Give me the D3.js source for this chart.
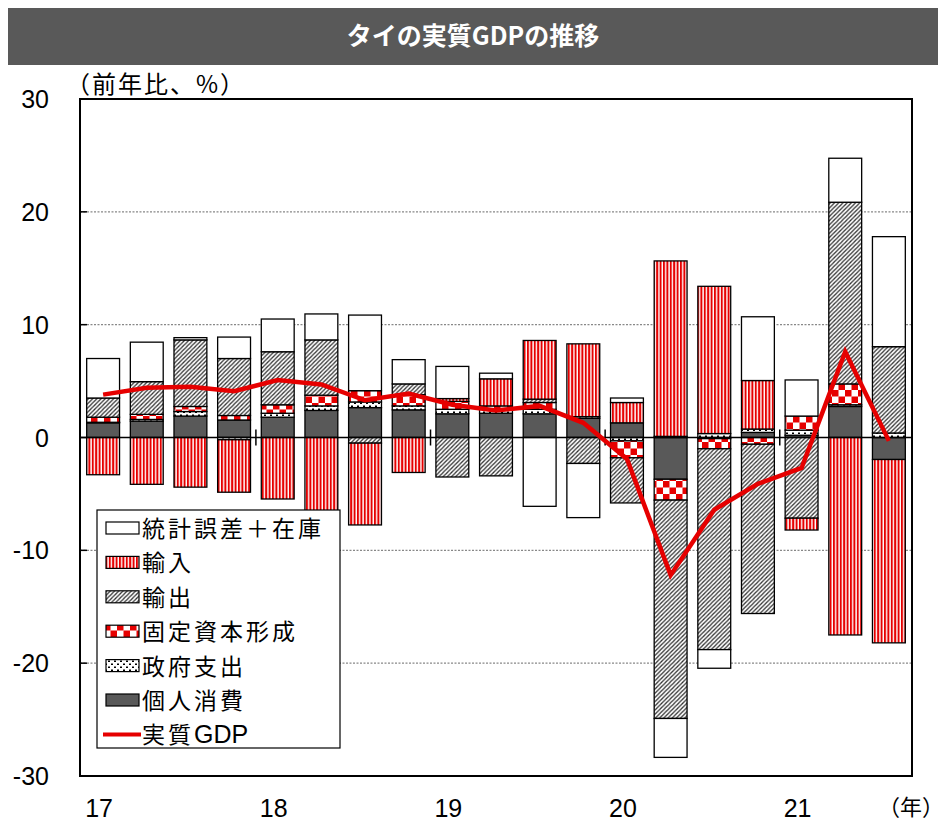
<!DOCTYPE html>
<html>
<head>
<meta charset="utf-8">
<script src="https://cdn.jsdelivr.net/npm/d3@7"></script>
<style>
  body { margin: 0; background: #fff; }
  svg { display: block; }
  text { font-family: "Liberation Sans", Arial, "Noto Sans CJK JP", sans-serif; }
  .jp { font-family: "Noto Sans CJK JP", sans-serif; }
</style>
</head>
<body>
<svg id="chart" width="945" height="822"></svg>
<script>
// quarters 2017Q1 .. 2021Q3
const quarters = ["17Q1","17Q2","17Q3","17Q4","18Q1","18Q2","18Q3","18Q4",
  "19Q1","19Q2","19Q3","19Q4","20Q1","20Q2","20Q3","20Q4","21Q1","21Q2","21Q3"];
const yearLabels = ["17","18","19","20","21"];

// contributions (pt)
const consumption = [1.3,1.45,1.9,1.55,1.8,2.4,2.65,2.45,2.1,2.15,2.1,1.7,1.3,-3.7,-0.1,0.45,0.2,2.75,-1.95];
const government  = [0.05,0.15,0.4,-0.2,0.35,0.4,0.5,0.35,0.4,0.35,0.4,0.15,-0.3,0.1,0.35,0.3,0.45,0.15,0.4];
const investment  = [0.45,0.45,0.45,0.4,0.75,0.95,1.0,1.0,0.7,0.3,0.6,0,-1.5,-1.85,-0.9,-0.6,1.25,1.85,0];
const exports_    = [1.7,2.9,5.9,5.05,4.7,4.9,-0.5,0.95,-3.5,-3.4,0.3,-2.3,-4.0,-19.35,-17.8,-15.0,-7.15,16.1,7.65];
const imports_    = [-3.3,-4.15,-4.4,-4.65,-5.45,-6.8,-7.25,-3.1,0.25,2.4,5.2,6.45,1.8,15.55,13.05,4.3,-1.05,-17.5,-16.25];
const residual    = [3.5,3.5,0.2,1.9,2.9,2.3,6.7,2.15,2.85,0.5,-6.1,-4.8,0.4,-3.45,-1.65,5.65,3.2,3.9,9.75];
const realGDP     = [3.8,4.4,4.5,4.1,5.1,4.7,3.3,3.9,2.9,2.4,2.8,1.3,-1.9,-12.2,-6.4,-4.1,-2.7,7.6,-0.3];

const keys = ["個人消費","政府支出","固定資本形成","輸出","輸入","統計誤差＋在庫"];
const seriesData = [consumption, government, investment, exports_, imports_, residual];
const legendOrder = ["統計誤差＋在庫","輸入","輸出","固定資本形成","政府支出","個人消費"];
const yTicks = [30,20,10,0,-10,-20,-30];

const rows = quarters.map((q, i) => {
  const r = { q: q };
  keys.forEach((k, j) => r[k] = seriesData[j][i]);
  return r;
});

const svg = d3.select("#chart");
const plotLeft = 80, plotRight = 912, plotTop = 99, plotBottom = 776;

const x = d3.scaleBand().domain(quarters).range([plotLeft, plotRight])
  .paddingInner(0.247).paddingOuter(0.153);
const y = d3.scaleLinear().domain([-30, 30]).range([plotBottom, plotTop]);

// patterns
const defs = svg.append("defs");
const red = "#e60000";

let p = defs.append("pattern").attr("id", "pat-imp").attr("patternUnits", "userSpaceOnUse")
  .attr("width", 3.4).attr("height", 10);
p.append("rect").attr("width", 3.4).attr("height", 10).attr("fill", "#fff");
p.append("rect").attr("width", 2).attr("height", 10).attr("fill", red);

p = defs.append("pattern").attr("id", "pat-exp").attr("patternUnits", "userSpaceOnUse")
  .attr("width", 4.2).attr("height", 4.2);
p.append("rect").attr("width", 4.2).attr("height", 4.2).attr("fill", "#fff");
p.append("path").attr("d", "M-1,1 L1,-1 M0,4.2 L4.2,0 M3.2,5.2 L5.2,3.2")
  .attr("stroke", "#333").attr("stroke-width", 1.3);

p = defs.append("pattern").attr("id", "pat-inv").attr("patternUnits", "userSpaceOnUse")
  .attr("width", 13).attr("height", 13);
p.append("rect").attr("width", 13).attr("height", 13).attr("fill", "#fff");
p.append("rect").attr("width", 6.5).attr("height", 6.5).attr("fill", red);
p.append("rect").attr("x", 6.5).attr("y", 6.5).attr("width", 6.5).attr("height", 6.5).attr("fill", red);

p = defs.append("pattern").attr("id", "pat-gov").attr("patternUnits", "userSpaceOnUse")
  .attr("width", 6).attr("height", 6);
p.append("rect").attr("width", 6).attr("height", 6).attr("fill", "#fff");
p.append("rect").attr("x", 0).attr("y", 0.5).attr("width", 2).attr("height", 1.5).attr("fill", "#000");
p.append("rect").attr("x", 3).attr("y", 3.5).attr("width", 2).attr("height", 1.5).attr("fill", "#000");

const fills = {
  "個人消費": "#595959",
  "政府支出": "url(#pat-gov)",
  "固定資本形成": "url(#pat-inv)",
  "輸出": "url(#pat-exp)",
  "輸入": "url(#pat-imp)",
  "統計誤差＋在庫": "#fff"
};

// title band
svg.append("rect").attr("x", 8).attr("y", 8).attr("width", 930).attr("height", 57).attr("fill", "#595959");
svg.append("text").attr("class", "jp").attr("x", 473).attr("y", 45).attr("text-anchor", "middle")
  .attr("fill", "#fff").attr("font-size", 25).attr("font-weight", "bold").text("タイの実質GDPの推移");

svg.append("text").attr("class", "jp").attr("x", 66).attr("y", 93)
  .attr("font-size", 24).attr("letter-spacing", 2).text("（前年比、%）");

// gridlines
svg.append("g").selectAll("line").data(yTicks.filter(t => t !== 0 && Math.abs(t) !== 30)).enter()
  .append("line")
  .attr("x1", plotLeft).attr("x2", plotRight)
  .attr("y1", d => y(d)).attr("y2", d => y(d))
  .attr("stroke", "#888").attr("stroke-width", 1.2).attr("stroke-dasharray", "2,1.5");

// y tick labels and inward ticks
svg.append("g").selectAll("text").data(yTicks).enter().append("text")
  .attr("x", 49).attr("y", d => y(d) + 9).attr("text-anchor", "end")
  .attr("font-size", 25).text(d => d);
svg.append("g").selectAll("line").data(yTicks).enter().append("line")
  .attr("x1", plotLeft).attr("x2", plotLeft + 7).attr("y1", d => y(d)).attr("y2", d => y(d))
  .attr("stroke", "#000").attr("stroke-width", 1.5);

// stacked bars
const stack = d3.stack().keys(keys).offset(d3.stackOffsetDiverging);
const layers = stack(rows);

svg.append("g").selectAll("g").data(layers).enter().append("g")
  .attr("fill", d => fills[d.key])
  .selectAll("rect").data(d => d).enter().append("rect")
  .attr("x", d => x(d.data.q))
  .attr("width", x.bandwidth())
  .attr("y", d => y(Math.max(d[0], d[1])))
  .attr("height", d => Math.abs(y(d[0]) - y(d[1])))
  .attr("stroke", "#000").attr("stroke-width", 1.3);

// zero line
svg.append("line").attr("x1", plotLeft).attr("x2", plotRight).attr("y1", y(0)).attr("y2", y(0))
  .attr("stroke", "#000").attr("stroke-width", 1.6);

// year separators on zero line
const step = x.step();
const sepQs = quarters.filter((q, i) => i > 0 && i % 4 === 0);
svg.append("g").selectAll("line").data(sepQs).enter().append("line")
  .attr("x1", d => x(d) - step * x.paddingInner() / 2)
  .attr("x2", d => x(d) - step * x.paddingInner() / 2)
  .attr("y1", y(0) - 8).attr("y2", y(0) + 8)
  .attr("stroke", "#000").attr("stroke-width", 1.5);

// GDP line
const line = d3.line().x((d, i) => x(quarters[i]) + x.bandwidth() / 2).y(d => y(d));
svg.append("path").datum(realGDP).attr("d", line)
  .attr("fill", "none").attr("stroke", red).attr("stroke-width", 4.5)
  .attr("stroke-linejoin", "miter");

// x labels
svg.append("g").selectAll("text").data(yearLabels).enter().append("text")
  .attr("x", (d, i) => x(quarters[i * 4]) + x.bandwidth() / 2 - 4)
  .attr("y", 817).attr("text-anchor", "middle").attr("font-size", 25).text(d => d);
svg.append("text").attr("class", "jp").attr("x", 911).attr("y", 815).attr("text-anchor", "middle")
  .attr("font-size", 22).text("（年）");

// legend
const lg = svg.append("g");
lg.append("rect").attr("x", 97).attr("y", 510).attr("width", 243).attr("height", 238)
  .attr("fill", "#fff").attr("stroke", "#000").attr("stroke-width", 1.2);
const rowY = i => 528 + i * 34.4;
lg.selectAll("rect.sw").data(legendOrder).enter().append("rect").attr("class", "sw")
  .attr("x", 106).attr("y", (d, i) => rowY(i) - 6).attr("width", 33).attr("height", 12)
  .attr("fill", d => fills[d]).attr("stroke", "#000").attr("stroke-width", 1.2);
lg.append("line").attr("x1", 103).attr("x2", 141).attr("y1", rowY(6)).attr("y2", rowY(6))
  .attr("stroke", red).attr("stroke-width", 4);
lg.selectAll("text.lab").data(legendOrder).enter().append("text").attr("class", "jp lab")
  .attr("x", 142).attr("y", (d, i) => rowY(i) + 9)
  .attr("font-size", 23).attr("letter-spacing", 3).text(d => d);
const gdpLab = lg.append("text").attr("class", "jp").attr("x", 142).attr("y", rowY(6) + 9)
  .attr("font-size", 23);
gdpLab.append("tspan").attr("letter-spacing", 3).text("実質");
gdpLab.append("tspan").attr("font-family", "'Liberation Sans', Arial, sans-serif")
  .attr("font-size", 25).text("GDP");

// plot frame
svg.append("rect").attr("x", plotLeft).attr("y", plotTop).attr("width", plotRight - plotLeft).attr("height", plotBottom - plotTop)
  .attr("fill", "none").attr("stroke", "#000").attr("stroke-width", 2);
</script>
</body>
</html>
